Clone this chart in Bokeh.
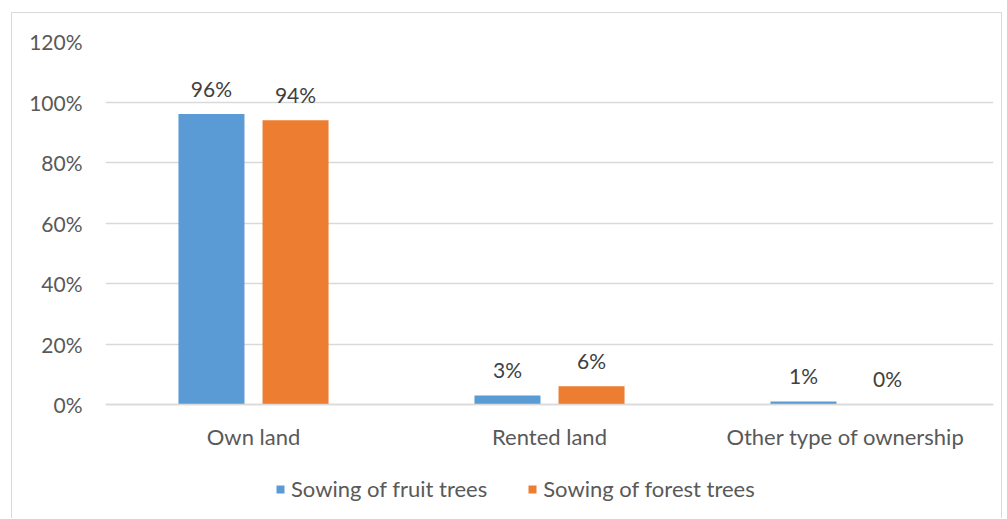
from bokeh.plotting import figure
from bokeh.models import (ColumnDataSource, FactorRange, Range1d, NumeralTickFormatter,
                          Legend, LegendItem, CategoricalAxis)
from bokeh.transform import dodge
from bokeh.core.properties import value
from bokeh.embed import file_html
from bokeh.resources import INLINE

categories = ["Own land", "Rented land", "Other type of ownership"]
fruit_trees = [0.96, 0.03, 0.01]
forest_trees = [0.94, 0.06, 0.00]
fruit_labels = ["96%", "3%", "1%"]
forest_labels = ["94%", "6%", "0%"]
y_ticks = [0, 0.2, 0.4, 0.6, 0.8, 1.0, 1.2]

FONT = "Lato"
TEXT = "#595959"
BLUE = "#5B9BD5"
ORANGE = "#ED7D31"
GRID = "#D9D9D9"
FS = "21px"
FS_CAT = "22px"

# canvas geometry (px): plot area top, zero line, canvas height
W, H = 991, 506
TOP, ZERO = 28, 391
px_per_unit = (ZERO - TOP) / 1.2
y_start = -(H - ZERO) / px_per_unit

src = ColumnDataSource(dict(cat=categories, fruit=fruit_trees, forest=forest_trees,
                            fl=fruit_labels, ol=forest_labels))

p = figure(width=W, height=H, x_range=FactorRange(*categories, range_padding=0),
           y_range=Range1d(y_start, 1.2), output_backend="svg", toolbar_location=None,
           x_axis_location=None,
           min_border_left=93, min_border_right=10, min_border_top=TOP,
           min_border_bottom=0)
p.background_fill_color = "white"
p.border_fill_color = "white"
p.outline_line_color = None
p.styles = {"margin-left": "11px", "margin-top": "12px",
            "border-left": "1px solid #D9D9D9", "border-top": "1px solid #D9D9D9",
            "border-right": "1px solid #D9D9D9"}

BW = 0.223
r1 = p.vbar(x=dodge("cat", -0.142, range=p.x_range), top="fruit", width=BW,
            source=src, fill_color=BLUE, line_color=None)
r2 = p.vbar(x=dodge("cat", 0.142, range=p.x_range), top="forest", width=BW,
            source=src, fill_color=ORANGE, line_color=None)

for col, lab, off in (("fruit", "fl", -0.142), ("forest", "ol", 0.142)):
    p.text(x=dodge("cat", off, range=p.x_range), y=col, text=lab, source=src,
           text_align="center", text_baseline="middle", y_offset=-26,
           text_font=value(FONT), text_font_size=FS, text_color="#404040")

# value axis
p.yaxis.ticker = y_ticks
p.yaxis.formatter = NumeralTickFormatter(format="0%")
p.yaxis.axis_line_color = None
p.yaxis.major_tick_line_color = None
p.yaxis.major_tick_out = 0
p.yaxis.minor_tick_line_color = None
p.yaxis.major_label_text_font = FONT
p.yaxis.major_label_text_font_size = FS
p.yaxis.major_label_text_color = TEXT
p.yaxis.major_label_standoff = 23

# category axis sits on the zero line
xaxis = CategoricalAxis(fixed_location=0, axis_line_color=GRID, axis_line_width=1.5,
                        major_tick_line_color=None, major_tick_out=0,
                        minor_tick_line_color=None,
                        major_label_text_font=FONT, major_label_text_font_size=FS_CAT,
                        major_label_text_color=TEXT, major_label_standoff=18)
p.add_layout(xaxis, "below")

p.xgrid.grid_line_color = None
p.ygrid.grid_line_color = GRID
p.ygrid.grid_line_width = 1.5
p.ygrid.ticker = y_ticks

legend = Legend(items=[LegendItem(label="Sowing of fruit trees", renderers=[r1]),
                       LegendItem(label="Sowing of forest trees", renderers=[r2])],
                orientation="horizontal", location=(170, 17),
                glyph_width=10, glyph_height=10, label_text_font=FONT,
                label_text_font_size=FS_CAT, label_text_color=TEXT,
                spacing=40, label_standoff=6, padding=4, margin=0,
                border_line_color=None, background_fill_alpha=0)
p.add_layout(legend, "center")

open("out.html", "w").write(file_html(p, INLINE))
